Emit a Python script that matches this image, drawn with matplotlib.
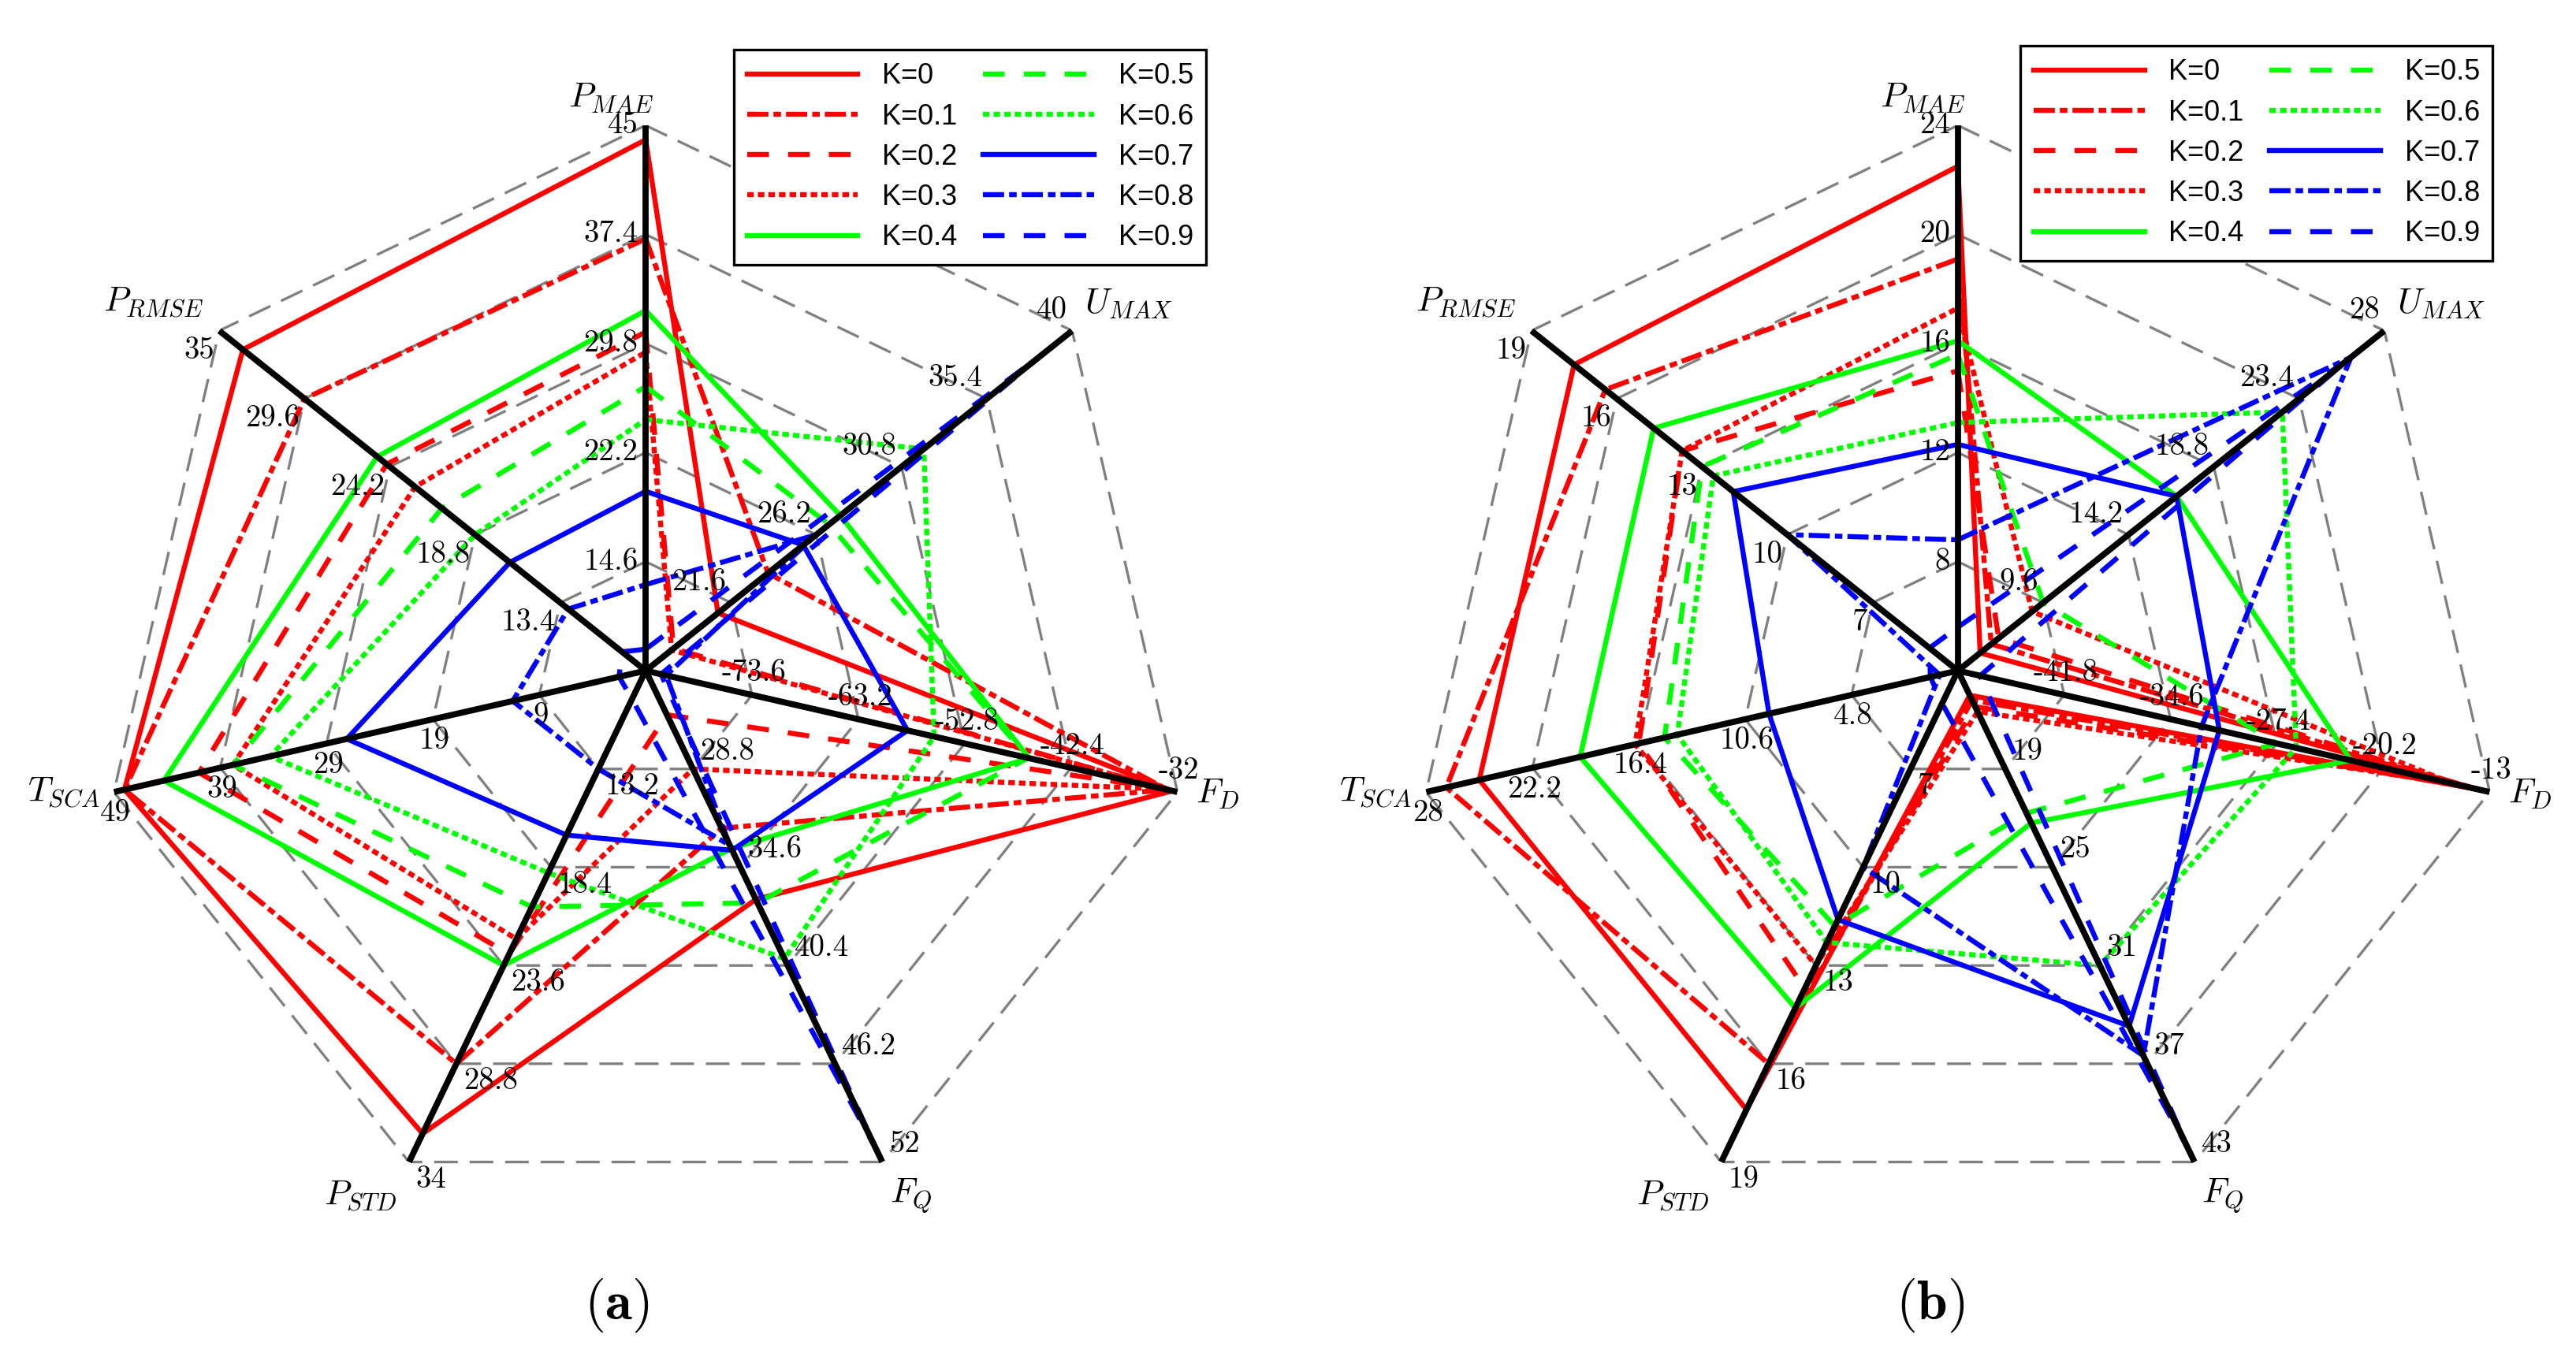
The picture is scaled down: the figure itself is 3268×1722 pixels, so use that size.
import numpy as np
import matplotlib
matplotlib.use("Agg")
import matplotlib.pyplot as plt

plt.rcParams['mathtext.fontset'] = 'cm'

axis_names = [r'$P_{MAE}$', r'$U_{MAX}$', r'$F_D$', r'$F_Q$',
              r'$P_{STD}$', r'$T_{SCA}$', r'$P_{RMSE}$']
k_labels = ['K=0', 'K=0.1', 'K=0.2', 'K=0.3', 'K=0.4',
            'K=0.5', 'K=0.6', 'K=0.7', 'K=0.8', 'K=0.9']

# axis order: P_MAE, U_MAX, F_D, F_Q, P_STD, T_SCA, P_RMSE
# centre value and outer value of every axis
lo_a = [7, 17, -84, 23, 8, -1, 8]
hi_a = [45, 40, -32, 52, 34, 49, 35]
lo_b = [4, 5, -49, 13, 4, -1, 4]
hi_b = [24, 28, -13, 43, 19, 28, 19]

vals_a = [
    [44.0, 20.9, -32.5, 36.5, 32.5, 48.0, 33.5],
    [37.1, 23.6, -33.0, 32.3, 28.8, 48.0, 29.6],
    [30.6, 18.5, -33.5, 25.6, 23.0, 41.0, 24.4],
    [29.2, 18.4, -33.2, 28.8, 22.2, 37.8, 22.6],
    [32.1, 27.5, -46.5, 33.5, 23.6, 44.3, 25.0],
    [26.8, 26.9, -46.6, 36.7, 20.5, 37.8, 20.9],
    [24.5, 32.0, -55.8, 40.0, 18.7, 34.3, 18.8],
    [19.5, 25.5, -58.4, 33.6, 16.7, 27.1, 16.6],
    [13.0, 26.2, -82.0, 33.3, 13.2, 11.5, 12.9],
    [8.5, 38.4, -82.5, 51.3, 9.5, 1.5, 9.5],
]
vals_b = [
    [22.5, 6.2, -13.5, 14.5, 17.4, 25.1, 17.5],
    [19.1, 6.8, -14.0, 14.8, 16.0, 26.9, 16.4],
    [15.0, 7.2, -15.0, 15.2, 13.7, 16.4, 13.7],
    [17.3, 9.0, -15.5, 15.5, 13.0, 16.6, 13.7],
    [16.1, 16.8, -22.4, 22.3, 14.3, 19.6, 14.7],
    [15.6, 9.6, -27.4, 21.7, 11.8, 15.0, 13.0],
    [13.1, 22.5, -26.1, 31.0, 12.3, 14.3, 12.6],
    [12.3, 16.8, -31.3, 34.7, 11.6, 9.3, 11.9],
    [8.8, 26.2, -32.5, 36.5, 10.0, 0.0, 10.0],
    [5.6, 26.0, -47.5, 42.2, 5.0, 0.5, 5.0],
]

levels = [0.2, 0.4, 0.6, 0.8, 1.0]

RED, GREEN, BLUE = '#ff0000', '#00ff00', '#0000ff'
solid = '-'
dashdot = (0, (4.2, 1.0, 1.5, 1.0))
dashed = (0, (4.3, 3.8))
dotted = (0, (1.3, 0.8))
styles = [(RED, solid), (RED, dashdot), (RED, dashed), (RED, dotted),
          (GREEN, solid), (GREEN, dashed), (GREEN, dotted),
          (BLUE, solid), (BLUE, dashdot), (BLUE, dashed)]

# axis-name offsets (points) from the outer vertex
name_off = [(-32, 26), (52, 25), (37, -2), (26, -31), (-44, -31), (-46, 0), (-60, 26)]

fig = plt.figure(figsize=(32.68, 17.22), dpi=100)


def panel(rect, lo, hi, data, tag, leg_anchor, tag_x):
    ax = fig.add_axes(rect, projection='polar')
    ax.set_theta_offset(np.pi / 2)
    ax.set_theta_direction(-1)
    ax.set_ylim(0, 1)
    ax.axis('off')
    ang = np.arange(7) * 2 * np.pi / 7
    ring = np.append(ang, ang[0])
    for lev in levels:
        ax.plot(ring, [lev] * 8, color='#808080', lw=2.4,
                ls=(0, (9, 4.5)), zorder=1)
    lo = np.array(lo, float)
    hi = np.array(hi, float)
    for row, lab, (c, ls) in zip(data, k_labels, styles):
        r = (np.array(row) - lo) / (hi - lo)
        ax.plot(ring, np.append(r, r[0]), color=c, ls=ls, lw=4.6,
                label=lab, zorder=2)
    for a in ang:
        ax.plot([a, a], [0, 1], color='k', lw=5.6, zorder=3,
                solid_capstyle='butt')
    for i, a in enumerate(ang):
        alpha = np.pi / 2 - a
        phi = alpha + np.pi / 2
        cx, cy = np.cos(phi), np.sin(phi)
        ha = 'left' if cx > 0.3 else ('right' if cx < -0.3 else 'center')
        va = 'bottom' if cy > 0.3 else ('top' if cy < -0.3 else 'center')
        for lev in levels:
            v = lo[i] + (hi[i] - lo[i]) * lev
            ax.annotate(f"{round(v, 1):g}", (a, lev), xytext=(7 * cx, 7 * cy),
                        textcoords='offset points', ha=ha, va=va,
                        fontsize=28, family='cmr10', zorder=4)
        ax.annotate(axis_names[i], (a, 1), xytext=name_off[i],
                    textcoords='offset points', ha='center', va='center',
                    fontsize=32)
    leg = fig.legend(*ax.get_legend_handles_labels(), ncol=2,
                     loc='upper right', bbox_to_anchor=leg_anchor,
                     borderaxespad=0,
                     prop={'family': 'Liberation Sans', 'size': 26},
                     handlelength=3.9, handletextpad=0.85, columnspacing=0.9,
                     labelspacing=0.45, borderpad=0.45, fancybox=False,
                     edgecolor='k', framealpha=1)
    leg.get_frame().set_linewidth(2.4)
    fig.text(tag_x, 0.038, r'$(\mathbf{' + tag + r'})$', fontsize=50,
             ha='center', va='center')
    return ax


panel([0.0389, 0.1039, 0.4235, 0.8037], lo_a, hi_a, vals_a, 'a',
      (0.4682, 0.9634), 0.2393)
panel([0.5483, 0.1039, 0.4235, 0.8037], lo_b, hi_b, vals_b, 'b',
      (0.9676, 0.9663), 0.7494)

fig.savefig('out.png', dpi=100)
